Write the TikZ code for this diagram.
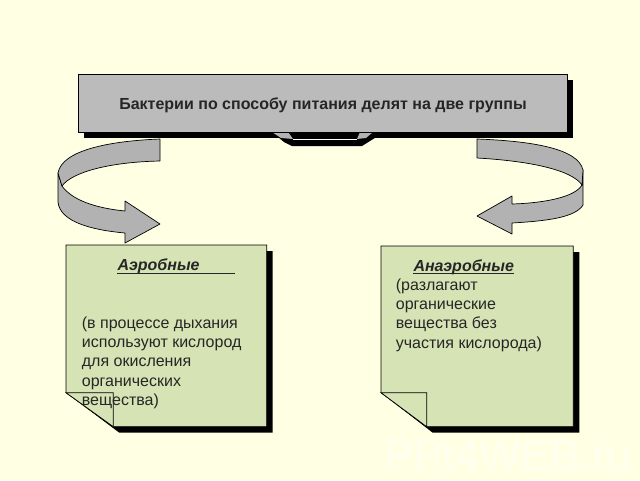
\documentclass[tikz,border=0pt]{standalone}
\usepackage{fontspec}
\setmainfont{Liberation Sans}
\definecolor{paper}{HTML}{FFFFE3}
\definecolor{slab}{HTML}{BBBBBB}
\definecolor{ribbon}{HTML}{B2B2B2}
\definecolor{leaf}{HTML}{D6E3B5}
\definecolor{mark}{HTML}{FFFFEF}
\tikzset{
  shade off/.style={fill=black,draw=none},
  band/.style={fill=ribbon,draw=black,line width=0.7pt,line join=round},
  note/.style={fill=leaf,draw=black,line width=0.7pt},
  notetext/.style={anchor=base west,inner sep=0pt,align=left,text=black!85,
    font=\fontsize{16}{19.4}\selectfont},
}
\begin{document}
\begin{tikzpicture}[x=1pt,y=-1pt]
\useasboundingbox (0,0) rectangle (640,480);
\fill[paper] (0,0) rectangle (640,480);

%watermark
\node[anchor=base west,inner sep=0pt,text=mark,font=\fontsize{44}{44}\selectfont] (wm) at (384,470) {PPt4WEB.ru};

%title shadow
\fill[shade off] (84,80) rectangle (573,138);

%hidden tab under the title
\fill[black] (272,132) -- (284,142) -- (292,146) -- (362,146) -- (378,136) -- (378,132) -- cycle;
\fill[ribbon] (272,132) -- (288,132) -- (293,139) -- (281,138) -- cycle;
\fill[ribbon] (373,132) -- (360,132) -- (357,139) -- (366,138) -- cycle;
\draw[white,line width=1.2pt] (293,139.7) -- (357,139.7);

%title
\draw[fill=slab,draw=black,line width=0.7pt] (78,74) rectangle (567,132);
\node[anchor=base,inner sep=0pt,font=\fontsize{16}{18}\selectfont\bfseries,text=black!85] (title) at (323,109) {Бактерии по способу питания делят на две группы};

%left ribbon
\draw[band] (58,173) -- (58,202) .. controls (60,222) and (92,230) .. (125,233)
  -- (125,243) -- (160,224) -- (125,201) -- (125,211)
  .. controls (95,208) and (72,200) .. (62,186) -- cycle;
\draw[band] (160,139) .. controls (110,141) and (62,150) .. (58,173) -- (62,186)
  .. controls (72,172) and (110,162) .. (160,161) -- cycle;

%right ribbon
\draw[band] (582,185) -- (583,170) -- (583,205) .. controls (575,218) and (545,221) .. (512,223)
  -- (512,234) -- (477,216) -- (512,196) -- (512,204)
  .. controls (545,203) and (575,197) .. (582,185) -- cycle;
\draw[band] (477,139) .. controls (530,141) and (578,148) .. (583,170) -- (582,185)
  .. controls (572,170) and (530,161) .. (477,158) -- cycle;

%left note
\fill[shade off] (72,251) -- (272.7,251) -- (272.7,432.7) -- (119.3,432.7) -- (66,392.7) -- cycle;
\draw[note] (66,245) -- (266.7,245) -- (266.7,426.7) -- (113.3,426.7) -- (66,392.7) -- cycle;
\draw[note] (66,392.7) -- (113.3,392.7) -- (113.3,426.7) -- cycle;
\node[notetext] (aerohead) at (117.3,270.7) {\textbf{\textit{Аэробные}}};
\draw[black!85] ([yshift=-2pt]aerohead.base west) -- ++(118,0);
\node[notetext] (aerotext) at (81.7,405.6) {(в процессе дыхания\\используют кислород\\для окисления\\органических\\вещества)};

%right note
\fill[shade off] (387,252) -- (579.3,252) -- (579.3,432.7) -- (432.7,432.7) -- (381,392.7) -- cycle;
\draw[note] (381,246) -- (573.3,246) -- (573.3,426.7) -- (426.7,426.7) -- (381,392.7) -- cycle;
\draw[note] (381,392.7) -- (426.7,392.7) -- (426.7,426.7) -- cycle;
\node[notetext] (anaerohead) at (413.3,271) {\textbf{\textit{Анаэробные}}};
\draw[black!85] ([yshift=-2pt]anaerohead.base west) -- ([yshift=-2pt]anaerohead.base east);
\node[notetext] (anaerotext) at (395.7,348.2) {(разлагают\\органические\\вещества без\\участия кислорода)};
\end{tikzpicture}
\end{document}
